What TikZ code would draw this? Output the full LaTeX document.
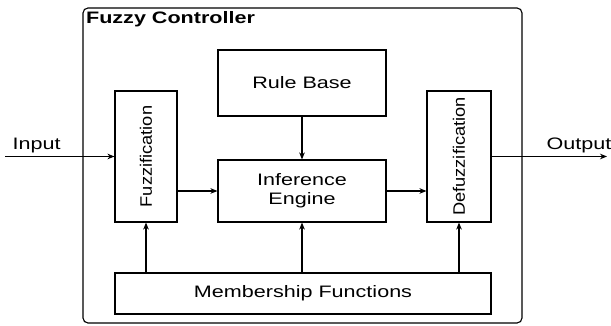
\documentclass[tikz,border=0pt]{standalone}
\usepackage{fontspec}
\setmainfont[FakeStretch=1.3]{Liberation Sans}
\newfontfamily\vertfont[FakeStretch=1.1]{Liberation Sans}
\usepackage{tikz}
\usetikzlibrary{arrows.meta}
\usetikzlibrary{calc}

\begin{document}
\begin{tikzpicture}
    [%%%%%%%%%%%%%%%%%%%%%%%%%%%%%%
        block/.style={rectangle,draw=black,thick,inner sep=0pt,align=center,
            font=\fontsize{11.8}{13.5}\selectfont},
        vblock/.style={block,font=\vertfont\fontsize{11.8}{13.5}\selectfont},
        flow/.style={-{Stealth[length=5pt,width=4pt]},thick},
        lbl/.style={inner sep=1pt,font=\fontsize{11.8}{13.5}\selectfont}
    ]%%%%%%%%%%%%%%%%%%%%%%%%%%%%%%
\useasboundingbox (0,0) rectangle (15.275,8.15);

\draw[thick,rounded corners=0.125cm] (2.075,0.075) rectangle (13.05,7.95);
\node[anchor=north west,inner sep=2pt,font=\bfseries\fontsize{11.8}{13.5}\selectfont]
    (title) at (2.075,7.95) {Fuzzy Controller};

\node[block,minimum width=4.2cm,minimum height=1.65cm] (rule) at (7.55,6.075) {Rule Base};
\node[block,minimum width=4.2cm,minimum height=1.55cm] (inf) at (7.55,3.375) {Inference\\Engine};
\node[vblock,minimum width=1.55cm,minimum height=3.275cm] (fuzz) at (3.65,4.2375)
    {\rotatebox{90}{Fuzzification}};
\node[vblock,minimum width=1.6cm,minimum height=3.275cm] (defuzz) at (11.475,4.2375)
    {\rotatebox{90}{Defuzzification}};
\node[block,minimum width=9.4cm,minimum height=1.025cm] (mf) at (7.575,0.8125)
    {Membership Functions};

\coordinate (in) at (0.125,4.2375);
\coordinate (out) at (15.175,4.2375);

\draw [flow] (in) -- (fuzz.west);
\node[lbl,anchor=south west] (inlbl) at ($(in)+(0.15,0.05)$) {Input};
\draw [flow] (defuzz.east) -- (out);
\node[lbl,anchor=south east] (outlbl) at ($(out)+(0.15,0.05)$) {Output};

\draw [flow] (fuzz.east |- inf.west) -- (inf.west);
\draw [flow] (inf.east) -- (defuzz.west |- inf.east);
\draw [flow] (rule.south) -- (inf.north);

\draw [flow] (fuzz.south |- mf.north) -- (fuzz.south);
\draw [flow] (inf.south |- mf.north) -- (inf.south);
\draw [flow] (defuzz.south |- mf.north) -- (defuzz.south);

\end{tikzpicture}
\end{document}
